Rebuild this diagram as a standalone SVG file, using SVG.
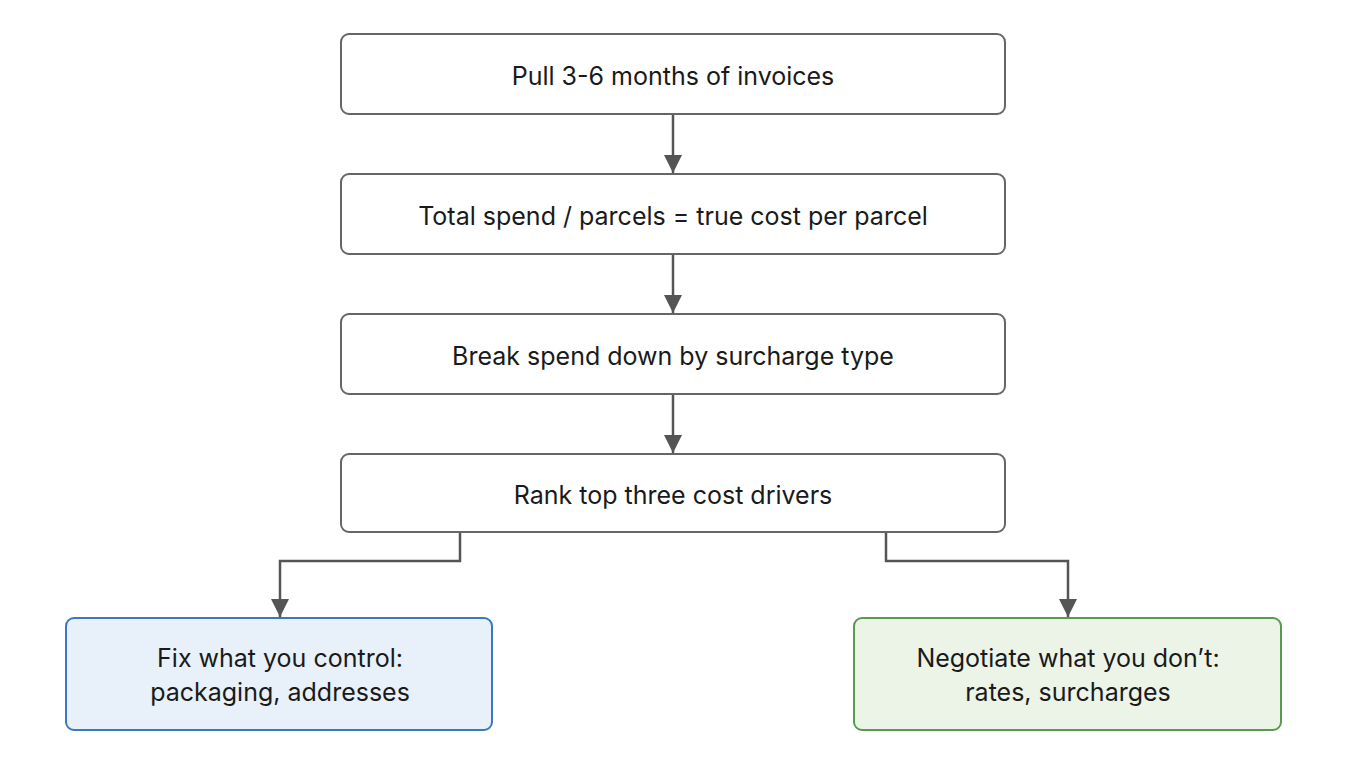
<svg xmlns="http://www.w3.org/2000/svg" width="1360" height="768" viewBox="0 0 1360 768">
<style>
.n{fill:#fff;stroke:#666;stroke-width:2}
.b{fill:#e8f0fa;stroke:#3b78c0;stroke-width:2}
.g{fill:#ecf4e8;stroke:#5a9a50;stroke-width:2}
text{font-family:Inter,"Noto Sans","Liberation Sans",sans-serif;font-size:25px;fill:#1a1a1a;text-anchor:middle}
.c{fill:none;stroke:#555;stroke-width:2.5}
</style>
<defs>
<marker id="ah" viewBox="0 0 20 20" refX="20" refY="10" markerWidth="20" markerHeight="18" orient="auto" markerUnits="userSpaceOnUse"><path d="M0,0L20,10L0,20z" fill="#555"/></marker></defs>
<rect width="1360" height="768" fill="#fff"/>
<g id="connectors">
<path class="c" d="M673,115V173" marker-end="url(#ah)"/>
<path class="c" d="M673,255V313" marker-end="url(#ah)"/>
<path class="c" d="M673,395V453" marker-end="url(#ah)"/>
<path class="c" d="M460,533V561H280V617" marker-end="url(#ah)"/>
<path class="c" d="M886,533V561H1068V617" marker-end="url(#ah)"/>
</g>
<g id="n1"><rect class="n" x="341" y="34" width="664" height="80" rx="8"/><text x="673" y="85">Pull 3-6 months of invoices</text></g>
<g id="n2"><rect class="n" x="341" y="174" width="664" height="80" rx="8"/><text x="673" y="225">Total spend / parcels = true cost per parcel</text></g>
<g id="n3"><rect class="n" x="341" y="314" width="664" height="80" rx="8"/><text x="673" y="365">Break spend down by surcharge type</text></g>
<g id="n4"><rect class="n" x="341" y="454" width="664" height="78" rx="8"/><text x="673" y="504">Rank top three cost drivers</text></g>
<g id="n5"><rect class="b" x="66" y="618" width="426" height="112" rx="8"/><text x="280" y="667">Fix what you control:</text><text x="280" y="701">packaging, addresses</text></g>
<g id="n6"><rect class="g" x="854" y="618" width="427" height="112" rx="8"/><text x="1068" y="667">Negotiate what you don’t:</text><text x="1068" y="701">rates, surcharges</text></g>
</svg>
